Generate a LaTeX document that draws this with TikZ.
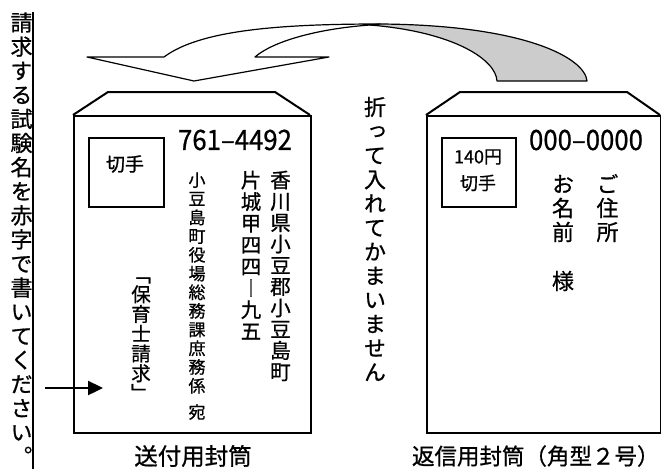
\documentclass[tikz,border=0pt]{standalone}
\usepackage{fontspec}
\setmainfont[FakeBold=0.8]{Noto Sans CJK JP}
\newfontfamily\vjp[RawFeature=+vert,FakeBold=0.8]{Noto Sans CJK JP}
\usetikzlibrary{arrows.meta}
\tikzset{
  envline/.style={line width=2pt, draw=black, line join=miter},
  stampbox/.style={line width=1.6pt, draw=black},
  txt/.style={inner sep=0pt, outer sep=0pt},
  bandfront/.style={line width=1.2pt, draw=black, fill=white, line join=round},
  bandback/.style={line width=1.2pt, draw=black, fill=black!20, line join=round},
}
% vertical column: name, x, y of first char centre, pitch, font size, chars
\newcommand\tatecol[6]{%
  \foreach \ch [count=\k from 0] in {#6} {%
    \node[txt, anchor=base] (#1-\k) at (#2, {#3 + \k*#4 + 0.38*#5}) {\vjp\fontsize{#5pt}{#5pt}\selectfont \ch};
  }}
\begin{document}
\begin{tikzpicture}[x=1pt,y=-1pt]
\useasboundingbox (0,0) rectangle (661,469);
% left instruction strip
\draw[line width=2pt] (33,12) -- (33,469);
\tatecol{inst}{21.5}{22.5}{24.1}{22}{請,求,す,る,試,験,名,を,赤,字,で,書,い,て,く,だ,さ,い,。}
% curved arrow (back part)
\path[bandback] (370,25) .. controls (455,32) and (496,60) .. (497,81) -- (587,81) .. controls (585,58) and (525,25) .. (380,24) -- cycle;
% curved arrow (front part)
\path[bandfront] (87,57) -- (164,57) .. controls (200,30) and (280,24) .. (380,24) -- (370,25) .. controls (315,29) and (272,42) .. (255,57) -- (329,57) -- (194,81) -- cycle;
% left envelope
\draw[envline] (73,115) -- (108,92) -- (275,92) -- (310,115);
\node[envline, anchor=north west, minimum width=237pt, minimum height=317pt, inner sep=0pt] (env1) at (73,115) {};
\node[stampbox, anchor=north west, minimum width=75pt, minimum height=69pt, inner sep=0pt] (stamp1) at (88,137) {};
\node[txt] (kitte1) at (125,164) {\fontsize{19pt}{19pt}\selectfont 切手};
\node[txt] (zip1) at (235,140) {\fontsize{28pt}{28pt}\selectfont\scalebox{0.92}[1]{761–4492}};
\tatecol{addr1}{280.5}{180}{21.3}{20.5}{香,川,県,小,豆,郡,小,豆,島,町}
\tatecol{addr2}{251}{180}{21.6}{20.5}{片,城,甲,四,四,―,九,五}
\tatecol{dest}{197}{180}{18.7}{17}{小,豆,島,町,役,場,総,務,課,庶,務,係}
\node[txt] (ate) at (197,412) {\fontsize{17pt}{17pt}\selectfont 宛};
\tatecol{exam}{141}{274.5}{19.75}{19.5}{「,保,育,士,請,求,」}
\coordinate (arrS) at (45,388);
\coordinate (arrE) at (103,388);
\draw[line width=2.4pt, -{Triangle[length=15pt,width=14pt]}] (arrS) -- (arrE);
\node[txt] (lab1) at (193,456) {\fontsize{23.5pt}{23.5pt}\selectfont 送付用封筒};
% middle note
\tatecol{fold}{375}{107}{24.1}{22}{折,っ,て,入,れ,て,か,ま,い,ま,せ,ん}
% right envelope
\draw[envline] (426,115) -- (460,92) -- (627,92) -- (660,115);
\node[envline, anchor=north west, minimum width=233.5pt, minimum height=317pt, inner sep=0pt] (env2) at (426,115) {};
\node[stampbox, anchor=north west, minimum width=74pt, minimum height=69pt, inner sep=0pt] (stamp2) at (441,137) {};
\node[txt] (yen) at (478,157) {\fontsize{18pt}{18pt}\selectfont 140円};
\node[txt] (kitte2) at (478,183) {\fontsize{18pt}{18pt}\selectfont 切手};
\node[txt] (zip2) at (586,140) {\fontsize{28pt}{28pt}\selectfont\scalebox{0.92}[1]{000–0000}};
\tatecol{jusho}{607.5}{184}{24}{22}{ご,住,所}
\tatecol{namae}{563}{184}{24}{22}{お,名,前}
\node[txt] (sama) at (563,281) {\fontsize{22pt}{22pt}\selectfont 様};
\node[txt, anchor=west] (lab2) at (412,456) {\fontsize{22.5pt}{22.5pt}\selectfont 返信用封筒（角型２号）};
\end{tikzpicture}
\end{document}
